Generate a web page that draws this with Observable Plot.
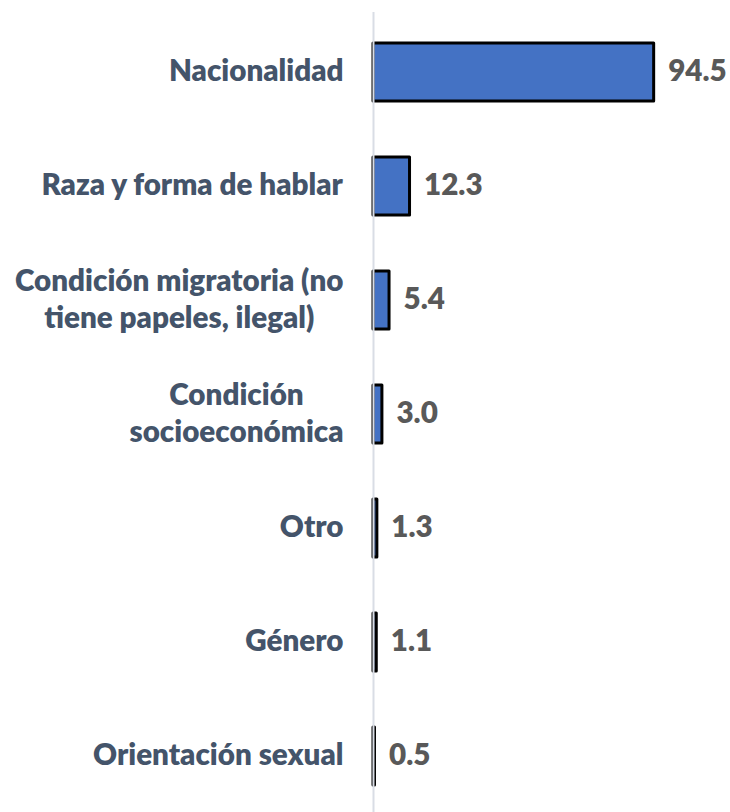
<!DOCTYPE html>
<html>
<head>
<meta charset="utf-8">
<script src="https://cdn.jsdelivr.net/npm/d3@7"></script>
<script src="https://cdn.jsdelivr.net/npm/@observablehq/plot@0.6"></script>
<style>
  html, body { margin: 0; padding: 0; background: #ffffff; }
  #chart { width: 730px; height: 812px; }
</style>
</head>
<body>
<div id="chart"></div>
<script>
const categories = [
  "Nacionalidad",
  "Raza y forma de hablar",
  "Condición migratoria (no\ntiene papeles, ilegal)",
  "Condición\nsocioeconómica",
  "Otro",
  "Género",
  "Orientación sexual"
];
const values = [94.5, 12.3, 5.4, 3.0, 1.3, 1.1, 0.5];

const data = categories.map((c, i) => ({category: c, value: values[i]}));

const FONT_FAMILY = "Lato, 'Open Sans', sans-serif";
const FONT_SIZE = 29.6;
const FONT_WEIGHT = 800;
const LABEL_COLOR = "#44546A";
const VALUE_COLOR = "#595959";
const BAR_COLOR = "#4472C4";

const ctx = document.createElement("canvas").getContext("2d");
ctx.font = `${FONT_WEIGHT} ${FONT_SIZE}px ${FONT_FAMILY}`;
const blockWidth = (s) => Math.max(...s.split("\n").map(l => ctx.measureText(l).width));

const labelMarks = data.map(d => Plot.text([d], {
  x: () => 0,
  y: "category",
  text: "category",
  textAnchor: "middle",
  lineHeight: 1.24,
  dx: -(30 + blockWidth(d.category) / 2),
  dy: -3,
  fill: LABEL_COLOR,
  fontWeight: FONT_WEIGHT,
  fontSize: FONT_SIZE
}));

const chart = Plot.plot({
  width: 730,
  height: 812,
  marginLeft: 373,
  marginRight: 60,
  marginTop: 16,
  marginBottom: 0,
  style: {fontFamily: FONT_FAMILY, background: "#ffffff"},
  x: {domain: [0, 100], axis: null},
  y: {domain: categories, axis: null, paddingInner: 0.49, paddingOuter: 0.216},
  marks: [
    Plot.barX(data, {
      x: "value",
      y: "category",
      fill: BAR_COLOR,
      stroke: "#000000",
      strokeWidth: 3,
      strokeLinejoin: "round"
    }),
    Plot.ruleX([0], {stroke: "#D9DDE5", strokeWidth: 2, insetTop: -4}),
    ...labelMarks,
    Plot.text(data, {
      x: "value",
      y: "category",
      text: d => d.value.toFixed(1),
      textAnchor: "start",
      dx: 14,
      dy: -1,
      fill: VALUE_COLOR,
      fontWeight: FONT_WEIGHT,
      fontSize: FONT_SIZE
    })
  ]
});

document.getElementById("chart").appendChild(chart);
</script>
</body>
</html>
